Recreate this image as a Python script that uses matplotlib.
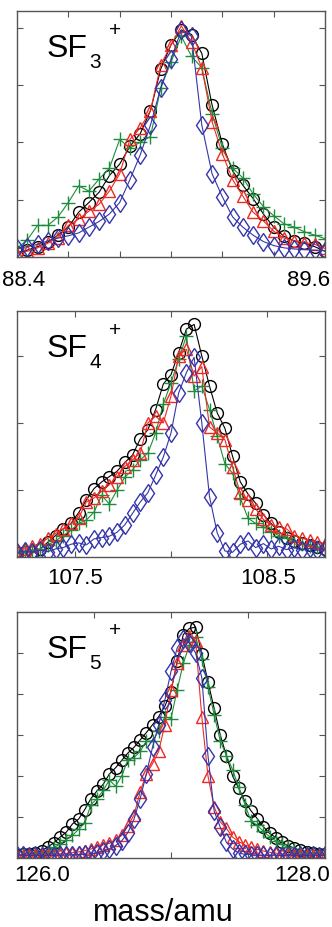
import numpy as np
import matplotlib
matplotlib.use("Agg")
import matplotlib.pyplot as plt

plt.rcParams['font.family'] = ['Liberation Sans', 'DejaVu Sans']

# SF3+ panel, mass 88.40 .. 89.60 sampled every 0.04
sf3_black = [0.08, 0.12, 0.18, 0.26, 0.38, 0.52, 0.78, 0.95, 1.13, 1.42, 1.62,
             1.93, 2.15, 2.55, 3.28, 3.70, 3.96, 3.88, 3.55, 2.65, 1.97, 1.50,
             1.25, 1.02, 0.75, 0.52, 0.36, 0.28, 0.24, 0.18, 0.10]
sf3_red = [0.06, 0.10, 0.16, 0.24, 0.34, 0.55, 0.66, 0.80, 0.92, 1.15, 1.45,
           2.05, 2.25, 2.55, 3.35, 3.70, 4.03, 3.75, 3.30, 2.36, 1.80, 1.35,
           1.06, 0.78, 0.63, 0.45, 0.33, 0.28, 0.25, 0.22, 0.15]
sf3_green = [0.15, 0.30, 0.55, 0.55, 0.70, 0.95, 1.24, 1.15, 1.36, 1.55, 2.05,
             1.90, 2.00, 2.10, 2.95, 3.40, 3.85, 3.50, 3.30, 2.50, 1.90, 1.55,
             1.38, 1.10, 0.88, 0.72, 0.58, 0.52, 0.44, 0.38, 0.32]
sf3_blue = [0.15, 0.18, 0.22, 0.28, 0.33, 0.37, 0.42, 0.52, 0.62, 0.75, 0.95,
            1.35, 1.78, 2.30, 2.95, 3.45, 3.95, 3.85, 2.30, 1.45, 1.05, 0.70,
            0.52, 0.38, 0.27, 0.20, 0.16, 0.14, 0.13, 0.12, 0.11]

# SF4+ panel, mass 107.20 .. 108.80 sampled every 0.04
sf4_black = [0.06, 0.07, 0.08, 0.12, 0.22, 0.32, 0.42, 0.50, 0.66, 0.85, 1.02,
             1.12, 1.20, 1.28, 1.41, 1.52, 1.76, 1.90, 2.20, 2.58, 2.72, 3.05,
             3.40, 3.47, 3.00, 2.55, 2.15, 1.92, 1.50, 1.12, 0.94, 0.80, 0.63,
             0.50, 0.38, 0.29, 0.24, 0.21, 0.18, 0.15, 0.12]
sf4_red = [0.10, 0.12, 0.16, 0.20, 0.28, 0.35, 0.42, 0.50, 0.58, 0.82, 0.88,
           0.98, 1.08, 1.20, 1.35, 1.45, 1.55, 2.00, 2.10, 2.00, 2.40, 3.00,
           3.10, 2.70, 2.84, 1.94, 1.85, 1.75, 1.34, 0.95, 0.85, 0.72, 0.56,
           0.48, 0.45, 0.42, 0.32, 0.28, 0.25, 0.22, 0.20]
sf4_green = [0.06, 0.08, 0.10, 0.12, 0.18, 0.24, 0.32, 0.40, 0.50, 0.55, 0.67,
             0.92, 0.79, 1.00, 1.19, 1.30, 1.45, 1.55, 1.85, 2.28, 2.60, 2.95,
             3.30, 2.48, 2.55, 2.20, 1.80, 1.39, 1.25, 0.88, 0.58, 0.50, 0.45,
             0.38, 0.32, 0.28, 0.24, 0.20, 0.17, 0.15, 0.13]
sf4_blue = [0.07, 0.09, 0.07, 0.10, 0.08, 0.12, 0.14, 0.19, 0.21, 0.18, 0.27,
            0.29, 0.31, 0.37, 0.48, 0.65, 0.82, 0.96, 1.22, 1.49, 1.85, 2.45,
            2.75, 2.98, 2.00, 0.90, 0.36, 0.09, 0.07, 0.19, 0.24, 0.14, 0.20,
            0.12, 0.16, 0.11, 0.14, 0.10, 0.13, 0.10, 0.12]

# SF5+ panel, mass 126.00 .. 128.00 sampled every 0.04
sf5_black = [0.08, 0.09, 0.10, 0.13, 0.18, 0.27, 0.37, 0.51, 0.63, 0.83, 0.95,
             1.18, 1.45, 1.64, 1.80, 2.05, 2.20, 2.38, 2.56, 2.70, 2.88, 3.06,
             3.25, 3.45, 3.70, 4.06, 4.80, 5.45, 5.60, 5.63, 4.98, 4.30, 3.65,
             3.00, 2.49, 2.00, 1.70, 1.38, 1.15, 0.96, 0.76, 0.60, 0.50, 0.38,
             0.30, 0.24, 0.19, 0.15, 0.12, 0.10, 0.09]
sf5_red = [0.06, 0.06, 0.07, 0.07, 0.08, 0.08, 0.09, 0.10, 0.11, 0.13, 0.15,
           0.18, 0.22, 0.27, 0.32, 0.36, 0.45, 0.55, 0.78, 1.05, 1.62, 2.05,
           2.30, 2.60, 3.25, 4.10, 4.75, 5.20, 5.42, 5.29, 3.44, 2.00, 1.25,
           0.88, 0.72, 0.51, 0.40, 0.32, 0.26, 0.21, 0.17, 0.14, 0.12, 0.10,
           0.09, 0.08, 0.08, 0.07, 0.07, 0.06, 0.06]
sf5_green = [0.07, 0.08, 0.09, 0.10, 0.12, 0.18, 0.26, 0.34, 0.45, 0.55, 0.70,
             0.85, 1.30, 1.45, 1.65, 1.90, 1.75, 2.00, 2.40, 2.45, 2.60, 2.85,
             2.85, 3.10, 3.45, 3.40, 4.10, 4.75, 5.20, 5.39, 4.85, 4.17, 3.50,
             2.85, 2.50, 2.15, 1.72, 1.30, 0.90, 0.80, 0.65, 0.52, 0.42, 0.33,
             0.26, 0.20, 0.16, 0.13, 0.11, 0.10, 0.10]
sf5_blue = [0.07, 0.07, 0.06, 0.07, 0.06, 0.07, 0.06, 0.07, 0.07, 0.08, 0.08,
            0.09, 0.10, 0.12, 0.16, 0.22, 0.30, 0.42, 0.62, 0.95, 1.45, 2.05,
            2.70, 3.25, 3.85, 4.55, 5.12, 5.35, 5.25, 5.00, 4.40, 2.50, 1.15,
            0.75, 0.38, 0.22, 0.12, 0.09, 0.08, 0.07, 0.07, 0.06, 0.07, 0.06,
            0.07, 0.06, 0.07, 0.06, 0.07, 0.06, 0.07]

panels = [
    dict(x=np.linspace(88.4, 89.6, 31), data=[sf3_black, sf3_green, sf3_red, sf3_blue],
         xlim=(88.4, 89.6), ylim=(0, 4.29), xticks=[88.6, 88.8, 89.0, 89.2, 89.4],
         yticks=[1, 2, 3, 4], num='3', top=12),
    dict(x=np.linspace(107.2, 108.8, 41), data=[sf4_black, sf4_green, sf4_red, sf4_blue],
         xlim=(107.2, 108.8), ylim=(0, 3.67), xticks=[107.5, 108.0, 108.5],
         yticks=[1, 2, 3], num='4', top=312),
    dict(x=np.linspace(126.0, 128.0, 51), data=[sf5_black, sf5_green, sf5_red, sf5_blue],
         xlim=(126.0, 128.0), ylim=(0, 6.0), xticks=[126.5, 127.0, 127.5],
         yticks=[1, 2, 3, 4, 5], num='5', top=613),
]

colors = ['black', '#1e8c3c', '#ee2a24', '#3535aa']
markers = ['o', '+', '^', 'd']
msizes = [8.5, 9.5, 8.5, 9.5]

W, H = 332, 928
fig = plt.figure(figsize=(W / 100, H / 100), dpi=100)


def px(x, y):
    return x / W, 1 - y / H


for p in panels:
    ax = fig.add_axes([17 / W, 1 - (p['top'] + 246) / H, 308 / W, 246 / H])
    for ys, c, m, ms in zip(p['data'], colors, markers, msizes):
        ax.plot(p['x'], ys, color=c, lw=0.8, marker=m, ms=ms, mfc='none',
                mec=c, mew=1.0)
    ax.set_xlim(*p['xlim'])
    ax.set_ylim(*p['ylim'])
    ax.set_xticks(p['xticks'])
    ax.set_yticks(p['yticks'])
    ax.set_yticklabels([])
    ax.set_xticklabels([])
    ax.tick_params(direction='in', top=True, right=True, length=4,
                   width=0.8, color='#555555')
    for s in ax.spines.values():
        s.set_color('#555555')
        s.set_linewidth(1.0)
    t = p['top']
    fig.text(*px(47, t + 45), 'SF', fontsize=23, va='baseline', ha='left')
    fig.text(*px(89, t + 56), p['num'], fontsize=15, va='baseline', ha='left')
    fig.text(*px(115, t + 18), '+', fontsize=15, va='center', ha='center')

# x labels
fig.text(*px(24, 280), '88.4', fontsize=16, ha='center', va='center')
fig.text(*px(309, 280), '89.6', fontsize=16, ha='center', va='center')
fig.text(*px(75, 579), '107.5', fontsize=16, ha='center', va='center')
fig.text(*px(268, 579), '108.5', fontsize=16, ha='center', va='center')
fig.text(*px(42, 876), '126.0', fontsize=16, ha='center', va='center')
fig.text(*px(302, 876), '128.0', fontsize=16, ha='center', va='center')
fig.text(*px(163, 913), 'mass/amu', fontsize=22, ha='center', va='center')

fig.savefig('out.png', dpi=100)
